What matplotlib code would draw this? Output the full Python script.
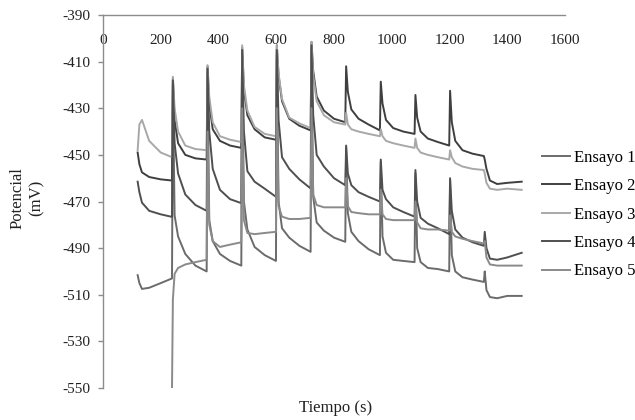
import numpy as np
import matplotlib
matplotlib.use("Agg")
import matplotlib.pyplot as plt

plt.rcParams["font.family"] = ["Liberation Serif", "DejaVu Serif"]
plt.rcParams["axes.unicode_minus"] = False

nan = np.nan

# time (s) of each reading, shared by all five runs
tiempo = [120, 126, 135, 160, 200,
          239, 242, 248, 260, 285, 320,
          359, 362, 368, 380, 405, 440,
          479, 482, 488, 500, 525, 560,
          599, 602, 608, 620, 645, 680,
          719, 722, 728, 740, 765, 800,
          839, 842, 848, 860, 885, 920,
          959, 962, 968, 980, 1005, 1040,
          1079, 1082, 1088, 1100, 1125, 1160,
          1199, 1202, 1208, 1220, 1245, 1280,
          1319, 1322, 1328, 1340, 1365, 1400,
          1450]

# potential (mV)
ensayo_1 = [-501.6, -505, -507.5, -507, -505,
            -503, -420, -476, -485, -492.5, -497.5,
            -500, -415, -478, -487, -492.5, -495.5,
            -497.5, -407, -470, -482, -489.5, -493,
            -495.5, -407, -470, -481.5, -485.5, -489,
            -491.6, -405, -468, -479, -482.5, -485.5,
            -487.3, -447, -475, -483, -487, -490.5,
            -493, -453, -485, -492, -495, -495.5,
            -496, -458, -490, -496, -498.5, -499,
            -500, -461, -493, -500, -502.5, -503.5,
            -504.5, -500, -508, -511, -511.5, -510.5,
            -510.5]

ensayo_2 = [-449, -454, -457.5, -459.5, -460.5,
            -461, -417, -435, -445, -450, -451.5,
            -452, -412, -428, -439, -444, -446,
            -447, -404, -422, -433, -439, -442.5,
            -443.5, -403, -416, -427, -434.5, -437.5,
            -439.5, -401.5, -414, -425, -431, -434.5,
            -436, -412, -423, -430.5, -434.5, -437,
            -439.5, -418.6, -428, -435, -438.5, -440,
            -441, -424.3, -434, -440, -443, -444.5,
            -446, -422.5, -436, -444, -448, -449.5,
            -450.5, -452, -456, -461, -462.5, -462,
            -461.5]

ensayo_3 = [-448, -437, -435, -444, -449,
            -451, -416.5, -430, -440, -446, -447.5,
            -448, -411.5, -425, -436, -442, -443.5,
            -444.5, -403, -420, -431, -438, -441,
            -442, -403, -415, -426, -434, -436.5,
            -438.5, -401.5, -416, -427, -433, -436,
            -437, -432, -437, -439, -440, -441,
            -442, -439, -442, -444, -445, -446,
            -447, -443, -447, -449, -450, -451,
            -452, -448, -451, -453.5, -455, -456,
            -456.5, -458, -462, -464.5, -465, -464.5,
            -465]

ensayo_4 = [-461.5, -466, -470.5, -474, -475.5,
            -476.6, -418, -445, -458, -467, -471.5,
            -474, -413, -440, -456, -465, -469,
            -470.7, -405, -440, -457, -461.5, -464.5,
            -468, -405, -435, -451, -456, -460.5,
            -464.4, -403, -433, -450, -455, -460,
            -463, -446, -458, -463, -466, -468,
            -470, -452, -465, -469, -472.5, -474.5,
            -476.5, -456.5, -470, -477, -479.5, -481.5,
            -484, -460, -474, -482, -485.5, -487.5,
            -489, -483, -490, -494.5, -495, -494,
            -492]

ensayo_5 = [nan, nan, nan, nan, nan,
            -550, -512, -501, -498.5, -497, -496,
            -495, -440, -480, -487, -489.5, -488.5,
            -487.5, -430, -478, -483.5, -484, -483.5,
            -483, -430, -472, -476.5, -477.5, -477.5,
            -477, -430, -467, -471.5, -472.5, -472.5,
            -472.5, -460, -472, -474.5, -475, -475.5,
            -475.5, -465, -475.5, -477.5, -478, -478,
            -478, -470, -479, -481.5, -482, -482,
            -482.5, -476, -483, -485, -486, -487,
            -488, -487, -494, -497, -497.5, -497.5,
            -497.5]

nombres = ["Ensayo 1", "Ensayo 2", "Ensayo 3", "Ensayo 4", "Ensayo 5"]
colores = ["#6b6b6b", "#3f3f3f", "#a8a8a8", "#4f4f4f", "#8a8a8a"]
valores = [ensayo_1, ensayo_2, ensayo_3, ensayo_4, ensayo_5]

fig = plt.figure(figsize=(6.35, 4.2), dpi=100)
ax = fig.add_axes([103 / 635, 1 - 388 / 420, (565 - 103) / 635, (388 - 15) / 420])

for nombre, v, c in zip(nombres, valores, colores):
    ax.plot(tiempo, v, color=c, lw=1.4, label=nombre)

ax.set_xlim(0, 1600)
ax.set_ylim(-550, -390)
ax.set_xticks(range(0, 1601, 200))
ax.set_yticks(range(-550, -389, 20))

for s in ("right", "bottom"):
    ax.spines[s].set_visible(False)
for s in ("left", "top"):
    ax.spines[s].set_color("#8c8c8c")
    ax.spines[s].set_linewidth(1.0)

ax.tick_params(axis="x", bottom=False, labelbottom=False, top=True, labeltop=True,
               length=0, pad=-23, labelsize=11, labelcolor="#222222")
ax.tick_params(axis="y", direction="out", length=3.5, width=1.0, color="#8c8c8c",
               pad=5.9, labelsize=11, labelcolor="#222222")

fig.text(27 / 635, 1 - 198 / 420, "Potencial\n(mV)", rotation=90, ha="center", va="center",
         multialignment="center", fontsize=12, color="#222222")
fig.text(336 / 635, 1 - 408 / 420, "Tiempo (s)", ha="center", va="center",
         fontsize=12, color="#222222")

fig.legend(loc="upper left", bbox_to_anchor=(542 / 635, 1 - 150 / 420), frameon=False,
           fontsize=12, handlelength=1.7, handletextpad=0.2, labelspacing=0.74,
           borderpad=0, borderaxespad=0)

fig.savefig("out.png", dpi=100)
